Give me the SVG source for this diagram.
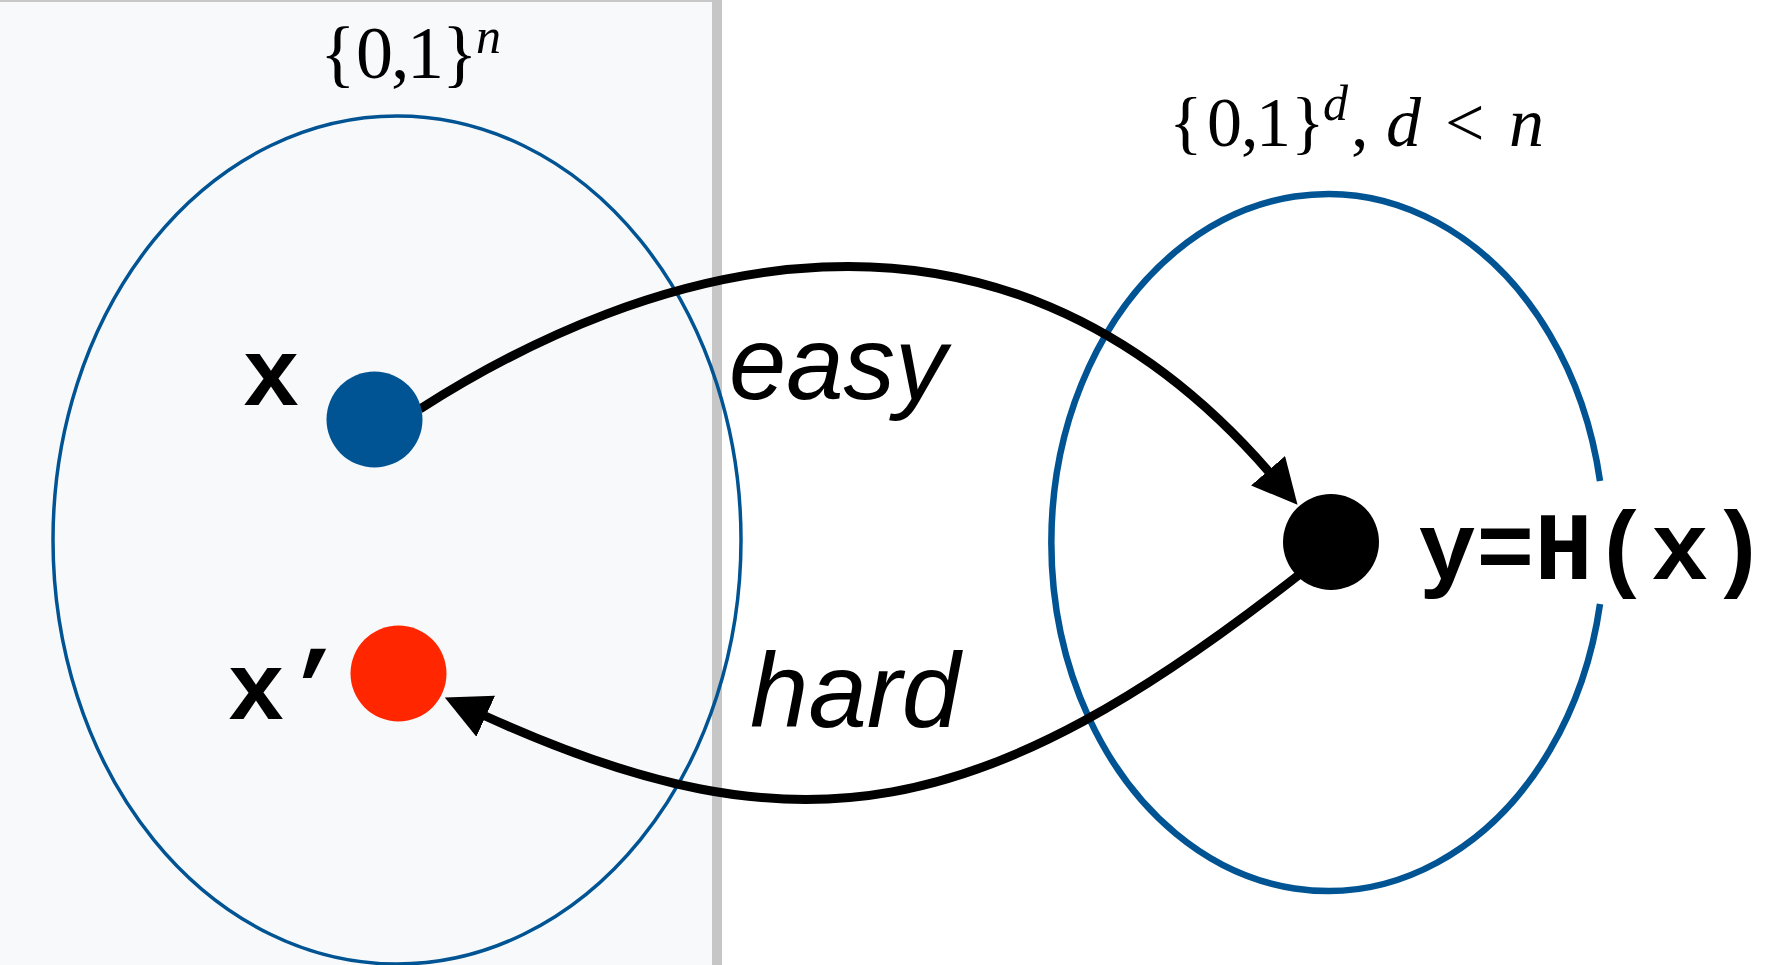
<svg xmlns="http://www.w3.org/2000/svg" width="1768" height="965" viewBox="0 0 1768 965">
  <defs>
    <style>
      .set { fill: none; stroke: #005493; }
      .mono { font-family: "Liberation Mono", "DejaVu Sans Mono", monospace; font-size: 97px; font-weight: bold; fill: #000; }
      .serif { font-family: "Liberation Serif", "Times New Roman", serif; fill: #000; }
      .it { font-style: italic; }
      .sans { font-family: "Liberation Sans", Arial, sans-serif; font-style: italic; fill: #000; }
      .conn { fill: none; stroke: #000; stroke-width: 9; }
    </style>
    <marker id="ah" markerUnits="userSpaceOnUse" markerWidth="50" markerHeight="50" refX="3" refY="22.5" orient="auto">
      <path d="M0,0 L45,22.5 L0,45 Z" fill="#000"/>
    </marker>
  </defs>
  <rect x="0" y="0" width="1768" height="965" fill="#ffffff"/>
  <g id="panel">
    <rect x="0" y="0" width="712" height="965" fill="#f8f9fb"/>
    <rect x="0" y="0" width="712" height="2" fill="#c8c8c8"/>
    <rect x="712" y="0" width="10" height="965" fill="#c6c6c6"/>
  </g>
  <g id="set-n">
    <ellipse class="set" cx="397" cy="540" rx="344" ry="424" stroke-width="3.5"/>
    <text class="serif" y="78" font-size="74"><tspan x="320">{</tspan><tspan x="356">0</tspan><tspan x="391">,</tspan><tspan x="407">1</tspan><tspan x="442">}</tspan></text>
    <text class="serif it" x="476" y="53" font-size="50">n</text>
  </g>
  <g id="set-d">
    <path class="set" stroke-width="6.5" d="M1600,604 A276.5,348.5 0 1 1 1600,481"/>
    <text class="serif" y="146" font-size="70"><tspan x="1169">{</tspan><tspan x="1207">0</tspan><tspan x="1241">,</tspan><tspan x="1256">1</tspan><tspan x="1291">}</tspan></text>
    <text class="serif it" x="1323" y="120" font-size="50">d</text>
    <text class="serif" y="146" font-size="70"><tspan x="1351">,</tspan><tspan class="it" x="1386">d</tspan><tspan x="1445">&lt;</tspan><tspan class="it" x="1509">n</tspan></text>
  </g>
  <g id="connectors">
    <path id="easy" class="conn" d="M420,409 C640,268 990,150 1270,473" marker-end="url(#ah)"/>
    <path id="hard" class="conn" d="M1300,574 C984,822 801,860 483,715" marker-end="url(#ah)"/>
    <text class="sans" x="729" y="399" font-size="103">easy</text>
    <text class="sans" x="750" y="727" font-size="105">hard</text>
  </g>
  <g id="node-x">
    <circle cx="374.5" cy="419.5" r="48" fill="#005493"/>
    <text class="mono" x="242" y="405">x</text>
  </g>
  <g id="node-xp">
    <circle cx="398.5" cy="673.5" r="48" fill="#ff2600"/>
    <text class="mono" x="227" y="719">x’</text>
  </g>
  <g id="node-y">
    <circle cx="1331" cy="542" r="48" fill="#000"/>
    <text class="mono" x="1418" y="579">y=H(x)</text>
  </g>
</svg>
